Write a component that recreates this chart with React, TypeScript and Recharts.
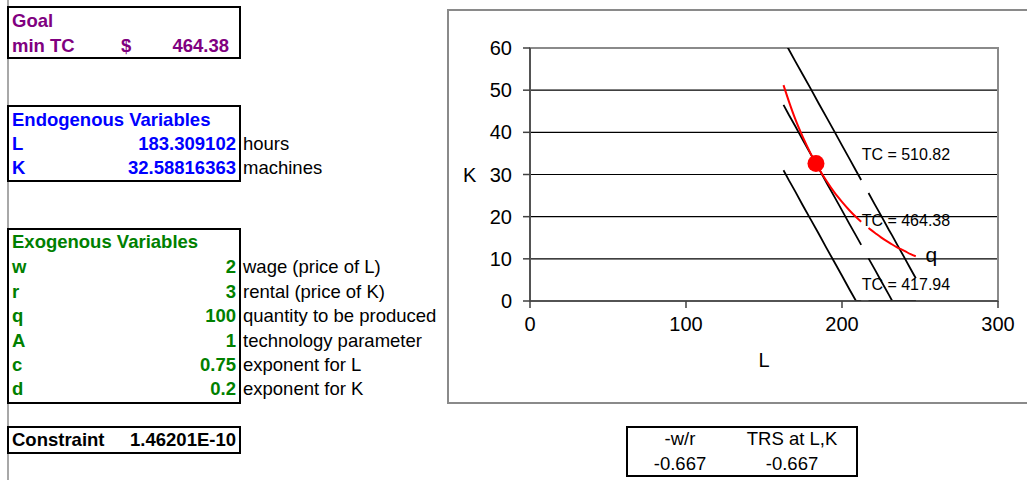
import { CartesianGrid, Label, Line, LineChart, ReferenceArea, ReferenceDot, XAxis, YAxis } from "recharts";

// L grid used for the isocost lines and the isoquant (one blank row makes the gap)
const laborL = [162.5, 166, 170, 175, 180, 185, 190, 195, 200, 205, 209, 212.3, 214.6, 217, 221, 225, 230, 232.2, 235, 240, 244, 247.3];
const tcHigh = [61.9, 59.6, 56.9, 53.6, 50.3, 46.9, 43.6, 40.3, 36.9, 33.6, 30.9, 28.7, null, 25.6, 22.9, 20.3, 16.9, 15.5, 13.6, 10.3, 7.6, 5.4];
const tcMid = [46.5, 44.1, 41.5, 38.1, 34.8, 31.5, 28.1, 24.8, 21.5, 18.1, 15.5, 13.3, null, 10.1, 7.5, 4.8, 1.5, 0, 0, 0, 0, 0];
const tcLow = [31.0, 28.6, 26.0, 22.6, 19.3, 16.0, 12.6, 9.3, 6.0, 2.6, 0, 0, null, 0, 0, 0, 0, 0, 0, 0, 0, 0];
const isoquant = [51.2, 47.3, 43.2, 38.8, 34.9, 31.5, 28.5, 25.8, 23.5, 21.4, 19.9, 18.8, null, 17.3, 16.2, 15.1, 13.9, 13.4, 12.8, 11.9, 11.1, 10.6];

const optimum = { L: 183.309102, K: 32.58816363 };

const xTicks = [0, 100, 200, 300];
const yTicks = [0, 10, 20, 30, 40, 50, 60];

const curveLabels = [
  { text: "TC = 510.82", L: 212.6, K: 34.8, size: 16 },
  { text: "TC = 464.38", L: 212.6, K: 19.2, size: 16 },
  { text: "TC = 417.94", L: 212.6, K: 4.0, size: 16 },
  { text: "q", L: 253.6, K: 10.9, size: 21 },
];

const endogenous = [
  { name: "L", value: "183.309102", unit: "hours" },
  { name: "K", value: "32.58816363", unit: "machines" },
];

const exogenous = [
  { name: "w", value: "2", unit: "wage (price of L)" },
  { name: "r", value: "3", unit: "rental (price of K)" },
  { name: "q", value: "100", unit: "quantity to be produced" },
  { name: "A", value: "1", unit: "technology parameter" },
  { name: "c", value: "0.75", unit: "exponent for L" },
  { name: "d", value: "0.2", unit: "exponent for K" },
];

const trsHeader = ["-w/r", "TRS at L,K"];
const trsValues = ["-0.667", "-0.667"];

const rows = laborL.map((L, i) => ({
  L,
  high: tcHigh[i],
  mid: tcMid[i],
  low: tcLow[i],
  q: isoquant[i],
}));

const FONT = "'Liberation Sans', Arial, sans-serif";
const FS = 18.5;

function Cell({ top, left, width, align = "left", color = "#000", bold = false, children }: any) {
  return (
    <div
      style={{
        position: "absolute",
        top: top - 18.7,
        left,
        width,
        height: 24.5,
        lineHeight: "24.5px",
        fontSize: FS,
        fontWeight: bold ? 700 : 400,
        color,
        textAlign: align,
        whiteSpace: "nowrap",
      }}
    >
      {children}
    </div>
  );
}

function Box({ top, left, width, height }: any) {
  return (
    <div
      style={{
        position: "absolute",
        top,
        left,
        width,
        height,
        border: "2px solid #000",
        boxSizing: "border-box",
      }}
    />
  );
}

function Sheet() {
  const purple = "#800080";
  const blue = "#0000ff";
  const green = "#008000";
  return (
    <>
      <div style={{ position: "absolute", left: 7, top: 0, width: 2, height: 480, background: "#a8a8a8" }} />

      <Box top={6} left={7} width={234} height={53} />
      <Cell top={27.3} left={12} color={purple} bold>Goal</Cell>
      <Cell top={52.7} left={12} color={purple} bold>min TC</Cell>
      <Cell top={52.7} left={121} color={purple} bold>$</Cell>
      <Cell top={52.7} left={120} width={109} align="right" color={purple} bold>464.38</Cell>

      <Box top={105} left={7} width={234} height={77} />
      <Cell top={126.7} left={12} color={blue} bold>Endogenous Variables</Cell>
      {endogenous.map((v, i) => (
        <div key={v.name}>
          <Cell top={150.7 + i * 24.3} left={12} color={blue} bold>{v.name}</Cell>
          <Cell top={150.7 + i * 24.3} left={60} width={176} align="right" color={blue} bold>{v.value}</Cell>
          <Cell top={150.7 + i * 24.3} left={243}>{v.unit}</Cell>
        </div>
      ))}

      <Box top={228} left={7} width={234} height={176} />
      <Cell top={248.3} left={12} color={green} bold>Exogenous Variables</Cell>
      {exogenous.map((v, i) => (
        <div key={v.name}>
          <Cell top={274 + i * 24.4} left={12} color={green} bold>{v.name}</Cell>
          <Cell top={274 + i * 24.4} left={60} width={176} align="right" color={green} bold>{v.value}</Cell>
          <Cell top={274 + i * 24.4} left={243}>{v.unit}</Cell>
        </div>
      ))}

      <Box top={426} left={7} width={234} height={28} />
      <Cell top={446.7} left={12} bold>Constraint</Cell>
      <Cell top={446.7} left={60} width={176} align="right" bold>1.46201E-10</Cell>

      <Box top={426} left={626} width={232} height={51} />
      {trsHeader.map((t, i) => (
        <Cell key={t} top={446} left={i === 0 ? 630 : 730} width={i === 0 ? 100 : 124} align="center">{t}</Cell>
      ))}
      {trsValues.map((t, i) => (
        <Cell key={i} top={470.5} left={i === 0 ? 630 : 730} width={i === 0 ? 100 : 124} align="center">{t}</Cell>
      ))}
    </>
  );
}

function PlotText(props: any) {
  const { viewBox, value, size } = props;
  return (
    <text x={viewBox.x} y={viewBox.y} dy="0.35em" fontSize={size} fill="#000" fontFamily={FONT} textAnchor="start">
      {value}
    </text>
  );
}

export default function App() {
  const tickStyle = { fill: "#000", fontSize: 20, fontFamily: FONT };
  return (
    <div
      style={{
        position: "absolute",
        left: 0,
        top: 0,
        width: 1027,
        height: 480,
        overflow: "hidden",
        background: "#fff",
        fontFamily: FONT,
      }}
    >
      <Sheet />
      <div
        style={{
          position: "absolute",
          left: 447,
          top: 9,
          width: 620,
          height: 395,
          border: "2px solid #8a8a8a",
          boxSizing: "border-box",
        }}
      />
      <div style={{ position: "absolute", left: 449, top: 11 }}>
        <LineChart width={578} height={392} data={rows} margin={{ top: 37, right: 29, left: 14, bottom: 0 }}>
          <ReferenceArea x1={0} x2={300} y1={0} y2={60} fill="none" stroke="#8a8a8a" strokeWidth={2} ifOverflow="visible" />
          <CartesianGrid vertical={false} stroke="#000" strokeWidth={1.2} />
          <XAxis
            dataKey="L"
            type="number"
            domain={[0, 300]}
            ticks={xTicks}
            interval={0}
            tick={tickStyle}
            tickSize={7}
            tickMargin={9}
            height={102}
            stroke="#404040"
            strokeWidth={1.5}
          >
            <Label value="L" position="insideBottom" offset={36} fontSize={20} fill="#000" />
          </XAxis>
          <YAxis
            type="number"
            domain={[0, 60]}
            ticks={yTicks}
            interval={0}
            allowDataOverflow
            tick={tickStyle}
            tickSize={7}
            tickMargin={11}
            width={67}
            stroke="#404040"
            strokeWidth={1.5}
          >
            <Label value="K" position="insideLeft" offset={0} fontSize={20} fill="#000" />
          </YAxis>
          <Line dataKey="high" type="linear" stroke="#000" strokeWidth={1.8} dot={false} connectNulls={false} isAnimationActive={false} />
          <Line dataKey="mid" type="linear" stroke="#000" strokeWidth={1.8} dot={false} connectNulls={false} isAnimationActive={false} />
          <Line dataKey="low" type="linear" stroke="#000" strokeWidth={1.8} dot={false} connectNulls={false} isAnimationActive={false} />
          <Line dataKey="q" type="monotone" stroke="#ff0000" strokeWidth={2} dot={false} connectNulls={false} isAnimationActive={false} />
          <ReferenceDot x={optimum.L} y={optimum.K} r={8.5} fill="#ff0000" stroke="none" />
          {curveLabels.map((c) => (
            <ReferenceDot
              key={c.text}
              x={c.L}
              y={c.K}
              r={0}
              fill="none"
              stroke="none"
              label={<PlotText value={c.text} size={c.size} />}
            />
          ))}
        </LineChart>
      </div>
    </div>
  );
}
